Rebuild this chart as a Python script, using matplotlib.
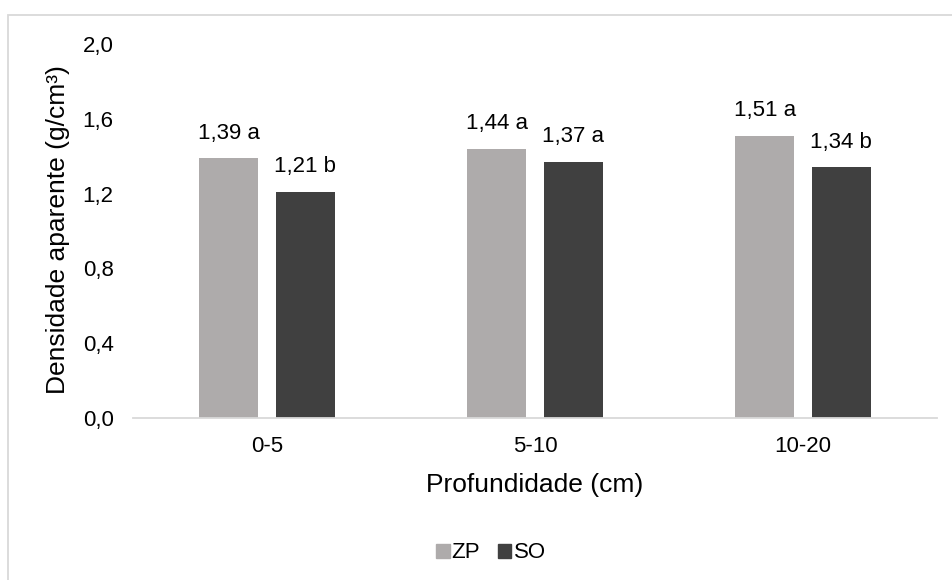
import matplotlib
matplotlib.use("Agg")
import matplotlib.pyplot as plt
from matplotlib.patches import Rectangle, Patch
import numpy as np

plt.rcParams['font.family'] = ['Liberation Sans', 'DejaVu Sans']

categorias = ["0-5", "5-10", "10-20"]
zp = [1.39, 1.44, 1.51]
so = [1.21, 1.37, 1.34]
letras_zp = ["a", "a", "a"]
letras_so = ["b", "a", "b"]
yticks = [0.0, 0.4, 0.8, 1.2, 1.6, 2.0]

cor_zp = "#AEABAB"
cor_so = "#404040"
cinza = "#D9D9D9"

fig = plt.figure(figsize=(9.52, 5.8), dpi=100)
fig.patches.append(Rectangle((8 / 952, -0.1), 1.2, 565 / 580 + 0.1,
                             transform=fig.transFigure, fill=False,
                             edgecolor=cinza, linewidth=1.3))

ax = fig.add_axes([133 / 952, 162 / 580, 804 / 952, 374 / 580])
x = np.arange(len(categorias))
w = 0.22
off = 0.143
b1 = ax.bar(x - off, zp, w, color=cor_zp, label="ZP")
b2 = ax.bar(x + off, so, w, color=cor_so, label="SO")

def fmt(v):
    return f"{v:.2f}".replace(".", ",")

for xi, v, l in zip(x - off, zp, letras_zp):
    ax.annotate(f"{fmt(v)} {l}", (xi, v), xytext=(0, 18), textcoords="offset points",
                ha="center", va="center", fontsize=16)
for xi, v, l in zip(x + off, so, letras_so):
    ax.annotate(f"{fmt(v)} {l}", (xi, v), xytext=(0, 18), textcoords="offset points",
                ha="center", va="center", fontsize=16)

ax.set_xlim(-0.5, 2.5)
ax.set_ylim(0, 2.0)
ax.set_yticks(yticks)
ax.set_yticklabels([f"{t:.1f}".replace(".", ",") for t in yticks])
ax.set_xticks(x)
ax.set_xticklabels(categorias)
ax.tick_params(axis="both", length=0, labelsize=16)
ax.tick_params(axis="y", pad=14)
ax.tick_params(axis="x", pad=13)
for s in ["top", "right", "left"]:
    ax.spines[s].set_visible(False)
ax.spines["bottom"].set_color(cinza)
ax.spines["bottom"].set_linewidth(1.3)

fig.text(58 / 952, (580 - 230) / 580, "Densidade aparente (g/cm³)", rotation=90,
         ha="center", va="center", fontsize=19)
fig.text(535 / 952, (580 - 485) / 580, "Profundidade (cm)",
         ha="center", va="center", fontsize=19)

fig.legend(handles=[Patch(color=cor_zp, label="ZP"), Patch(color=cor_so, label="SO")],
           loc="center", bbox_to_anchor=(491 / 952, 27 / 580), ncol=2, frameon=False,
           fontsize=16, handlelength=0.6, handleheight=0.6, handletextpad=0.1,
           columnspacing=0.8)

fig.savefig("out.png", dpi=100)
